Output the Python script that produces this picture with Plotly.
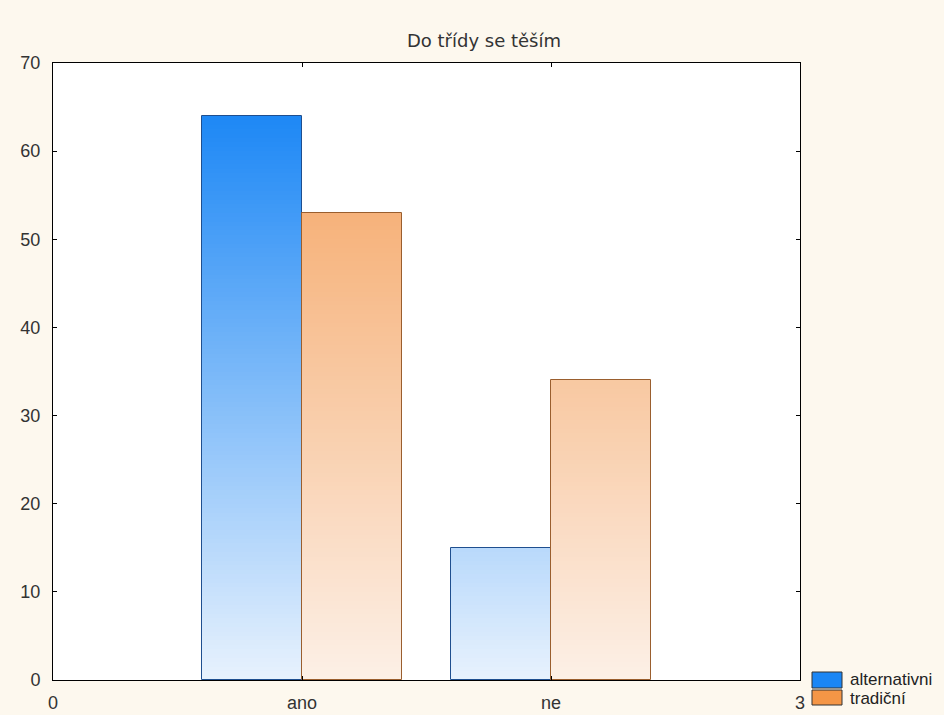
import numpy as np
import plotly.graph_objects as go

categories = ["ano", "ne"]
series_names = ["alternativni", "tradiční"]
alternativni = [64, 15]
tradicni = [53, 34]
x_tick_labels = ["0", "ano", "ne", "3"]
y_ticks = [0, 10, 20, 30, 40, 50, 60, 70]

x_pos = np.arange(1, len(categories) + 1)

top_colors = [(26, 134, 245), (245, 164, 98)]
bottom_colors = [(232, 242, 253), (252, 240, 231)]
line_colors = ["#1F4F8F", "#9A5E2E"]
offsets = [-0.4, 0.0]
grad_top = 65.0
step = 0.5

W, H = 944, 715
L, R, T, B = 53, 144, 63, 35
pw, ph = W - L - R, H - T - B

def px_x(p):
    return (p - L) / pw

def px_y(p):
    return (H - B - p) / ph

fig = go.Figure()

for s, vals in enumerate([alternativni, tradicni]):
    vals = np.array(vals, dtype=float)
    n = int(np.ceil(vals.max() / step))
    for k in range(n):
        base = k * step
        h = np.clip(vals - base, 0, step)
        t = min((base + step / 2) / grad_top, 1.0)
        c = tuple(int(round(bottom_colors[s][i] + (top_colors[s][i] - bottom_colors[s][i]) * t)) for i in range(3))
        fig.add_trace(go.Bar(
            x=x_pos, y=h, base=[base] * len(vals),
            width=0.4, offset=offsets[s],
            marker=dict(color="rgb(%d,%d,%d)" % c, line=dict(width=0)),
            showlegend=False, hoverinfo="skip"))
    fig.add_trace(go.Bar(
        x=x_pos, y=vals, width=0.4, offset=offsets[s],
        marker=dict(color="rgba(0,0,0,0)", line=dict(color=line_colors[s], width=1)),
        showlegend=False, name=series_names[s]))

# manual legend (swatches + labels)
legend_rows = [(672, 688, 679), (690, 705, 698)]
swatch_colors = ["rgb(26,134,245)", "rgb(245,150,70)"]
for s, (y0, y1, yc) in enumerate(legend_rows):
    fig.add_shape(type="rect", xref="paper", yref="paper",
                  x0=px_x(812), x1=px_x(842), y0=px_y(y1), y1=px_y(y0),
                  fillcolor=swatch_colors[s],
                  line=dict(color="#333333", width=1))
    fig.add_annotation(xref="paper", yref="paper", x=px_x(849), y=px_y(yc),
                       xanchor="left", yanchor="middle", showarrow=False,
                       text=series_names[s], borderpad=0,
                       font=dict(family="Liberation Sans, Arial", size=17, color="#222222"))

tick_font = dict(family="Liberation Sans, Arial", size=18, color="#333333")

fig.update_layout(
    barmode="overlay",
    width=W, height=H,
    margin=dict(l=L, r=R, t=T, b=B, autoexpand=False),
    paper_bgcolor="#FDF8EE",
    plot_bgcolor="#FFFFFF",
    title=dict(text="Do třídy se těším", x=484 / W, xref="container", xanchor="center",
               y=1 - 41 / H, yanchor="middle",
               font=dict(family="DejaVu Sans", size=18, color="#333333")),
    font=tick_font,
    showlegend=False,
    xaxis=dict(range=[0, 3], tickmode="array", tickvals=[0, 1, 2, 3], ticktext=x_tick_labels,
               showline=True, linecolor="#000000", linewidth=1, mirror="allticks",
               ticks="inside", ticklen=4, tickcolor="#000000", showgrid=False, zeroline=False,
               tickfont=tick_font, ticklabelstandoff=6, automargin=False),
    yaxis=dict(range=[0, 70], tickmode="array", tickvals=y_ticks,
               showline=True, linecolor="#000000", linewidth=1, mirror="allticks",
               ticks="inside", ticklen=4, tickcolor="#000000", showgrid=False, zeroline=False,
               tickfont=tick_font, ticklabelstandoff=8, automargin=False),
    bargap=0,
)

fig.write_html("out.html")
